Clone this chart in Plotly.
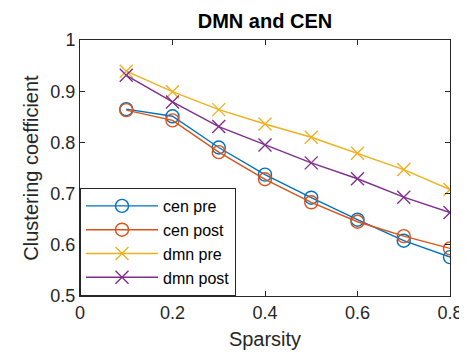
import plotly.graph_objects as go

sparsity = [0.1, 0.2, 0.3, 0.4, 0.5, 0.6, 0.7, 0.8]
cen_pre = [0.865, 0.851, 0.790, 0.737, 0.692, 0.649, 0.608, 0.576]
cen_post = [0.863, 0.843, 0.781, 0.728, 0.683, 0.645, 0.617, 0.593]
dmn_pre = [0.939, 0.899, 0.864, 0.836, 0.810, 0.779, 0.747, 0.708]
dmn_post = [0.931, 0.879, 0.831, 0.795, 0.760, 0.729, 0.693, 0.663]

x_ticks = [0, 0.2, 0.4, 0.6, 0.8]
x_ticktext = ["0", "0.2", "0.4", "0.6", "0.8"]
y_ticks = [0.5, 0.6, 0.7, 0.8, 0.9, 1.0]
y_ticktext = ["0.5", "0.6", "0.7", "0.8", "0.9", "1"]

series = [
    ("cen pre", cen_pre, "#0072BD", "circle-open"),
    ("cen post", cen_post, "#D95319", "circle-open"),
    ("dmn pre", dmn_pre, "#EDB120", "x-thin-open"),
    ("dmn post", dmn_post, "#7E2F8E", "x-thin-open"),
]

FONT = "Liberation Sans, Arial, sans-serif"
W, H = 459, 346  # page body has an 8px margin

fig = go.Figure()
for name, vals, color, sym in series:
    fig.add_trace(go.Scatter(
        x=sparsity, y=vals, name=name, mode="lines+markers",
        line=dict(color=color, width=1.4),
        marker=dict(symbol=sym, size=13, color=color, line=dict(color=color, width=1.4)),
    ))

axis_common = dict(
    showgrid=False, zeroline=False, showline=True, linecolor="#262626", linewidth=1,
    mirror="allticks", ticks="inside", ticklen=5, tickcolor="#262626",
    tickfont=dict(family=FONT, size=18, color="#262626"),
    automargin=False,
)

fig.update_layout(
    width=W, height=H,
    margin=dict(l=72, r=17, t=32, b=58),
    paper_bgcolor="white", plot_bgcolor="white",
    font=dict(family=FONT, color="#262626"),
    title=dict(text="<b>DMN and CEN</b>", x=0.5, xanchor="center", xref="paper",
               y=1 - 13 / H, yref="container", yanchor="middle",
               font=dict(family=FONT, size=20, color="black")),
    xaxis=dict(range=[0, 0.8], tickvals=x_ticks, ticktext=x_ticktext,
               title=dict(text="Sparsity", font=dict(family=FONT, size=20, color="#262626"), standoff=10),
               **axis_common),
    yaxis=dict(range=[0.5, 1.0], tickvals=y_ticks, ticktext=y_ticktext,
               title=dict(text="Clustering coefficient", font=dict(family=FONT, size=20, color="#262626"), standoff=6),
               **axis_common),
    legend=dict(x=0, y=0, xanchor="left", yanchor="bottom",
                bgcolor="white", bordercolor="#262626", borderwidth=1,
                font=dict(family=FONT, size=16, color="black"), itemwidth=72,
                tracegroupgap=0, traceorder="normal"),
    showlegend=True,
)

fig.write_html("out.html")
